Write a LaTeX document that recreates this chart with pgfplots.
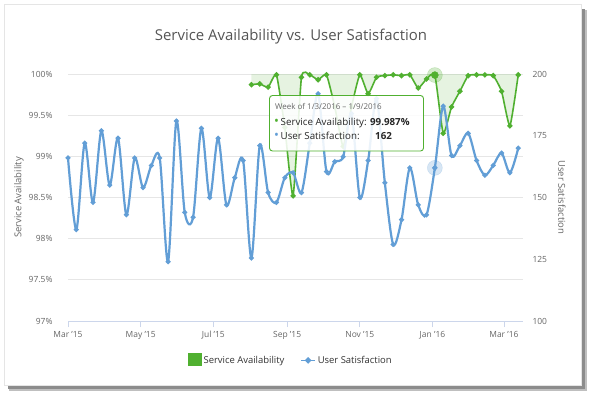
\documentclass[border=0pt]{standalone}
\usepackage{fontspec}
\setmainfont{Open Sans}
\usepackage{pgfplots}
\usepackage{pgfplotstable}
\pgfplotsset{compat=1.18}
\definecolor{gA}{RGB}{80,176,48}
\definecolor{bU}{RGB}{98,158,214}
\definecolor{gridc}{RGB}{230,230,230}
\definecolor{axc}{RGB}{204,214,235}
\definecolor{txt}{RGB}{102,102,102}
\definecolor{ttl}{RGB}{85,85,85}

\pgfplotstableread{
day val
154 99.87
161 99.88
168 99.84
175 99.99
182 99.35
189 98.52
196 99.96
203 99.99
210 99.93
217 99.99
224 99.60
231 99.12
238 99.60
245 99.99
252 99.76
259 99.96
266 99.98
273 99.99
280 99.98
287 99.99
294 99.83
301 99.94
308 99.987
315 99.28
322 99.60
329 99.79
336 99.98
343 99.99
350 99.99
357 99.98
364 99.79
371 99.37
378 99.99
}\greentab

\pgfplotstableread{
day val
0 166
7 137
14 172
21 148
28 177
35 155
42 174
49 143
56 166
63 154
70 163
77 166
84 124
91 181
98 144
105 142
112 178
119 150
126 174
133 147
140 158
147 165
154 125.5
161 171
168 152
175 148
182 158
189 160
196 152
203 172
210 192
217 160.5
224 164.5
231 166.5
238 184
245 150
252 165
259 190
266 156
273 131
280 141
287 162
294 147
301 143
308 162
315 187
322 167
329 171
336 176
343 165
350 159
357 163
364 168
371 160
378 170
}\bluetab

\begin{document}
\begin{tikzpicture}
\path (0bp,0bp) rectangle (591bp,-396bp);
\fill[black!25] (9bp,-10bp) rectangle (587bp,-391bp);
\fill[black!45] (8bp,-9bp) rectangle (585bp,-389bp);
\fill[white] (4bp,-4bp) rectangle (581bp,-385bp);
\draw[black!10] (4bp,-4bp) rectangle (581bp,-385bp);

\node[ttl, font=\fontsize{15}{18}\selectfont] at (291bp,-37bp) {Service Availability vs. User Satisfaction};

\begin{axis}[
  at={(68bp,-321bp)}, anchor=south west, scale only axis,
  width=455bp, height=247bp,
  xmin=0, xmax=382, ymin=97, ymax=100,
  clip=false,
  axis x line*=bottom, axis y line*=left,
  x axis line style={draw=axc, line width=0.8bp, -},
  y axis line style={draw=none},
  xtick={0,61,122,184,245,306,366},
  xticklabels={Mar '15,May '15,Jul '15,Sep '15,Nov '15,Jan '16,Mar '16},
  xtick style={draw=axc, line width=0.8bp},
  tick align=outside, major tick length=6bp,
  ytick={97,97.5,98,98.5,99,99.5,100},
  yticklabels={97\%,97.5\%,98\%,98.5\%,99\%,99.5\%,100\%},
  ytick style={draw=none},
  ymajorgrids, grid style={gridc, line width=0.8bp},
  tick label style={font=\fontsize{8.5}{10}\selectfont, text=txt},
  yticklabel style={xshift=-6bp},
  xticklabel style={yshift=-1bp},
  ylabel={Service Availability},
  ylabel style={at={(axis description cs:-0.1077,0.5)}, anchor=center, font=\fontsize{9.5}{11}\selectfont, text=txt},
  /pgf/number format/assume math mode=true,
]
\addplot[fill=gA, fill opacity=0.14, draw=none, smooth, tension=0.3] table {\greentab} -- (axis cs:378,100) -- (axis cs:154,100) -- cycle;
\addplot[gA, line width=1.6bp, smooth, tension=0.3, mark=*, mark size=1.8bp, mark options={solid}] table {\greentab};
\addplot[only marks, mark=*, mark size=7.5bp, gA, opacity=0.25] coordinates {(308,99.987)};
\addplot[only marks, mark=*, mark size=3.5bp, gA] coordinates {(308,99.987)};
\end{axis}

\begin{axis}[
  at={(68bp,-321bp)}, anchor=south west, scale only axis,
  width=455bp, height=247bp,
  xmin=0, xmax=382, ymin=100, ymax=200,
  clip=false,
  axis x line=none, axis y line*=right,
  y axis line style={draw=none},
  ytick={100,125,150,175,200},
  ytick style={draw=none},
  tick label style={font=\fontsize{8.5}{10}\selectfont, text=txt},
  yticklabel style={anchor=west, xshift=6bp},
  ylabel={User Satisfaction},
  ylabel style={at={(axis description cs:1.0857,0.5)}, anchor=center, rotate=180, font=\fontsize{9.5}{11}\selectfont, text=txt},
  /pgf/number format/assume math mode=true,
  legend columns=2,
  legend style={at={(0.49,-0.158)}, anchor=center, draw=none, fill=none,
     font=\fontsize{9.5}{11}\selectfont, text=black!80,
     /tikz/every even column/.append style={column sep=14bp}},
]
\addlegendimage{legend image code/.code={\fill[gA] (0bp,-5bp) rectangle (13bp,7bp);}}
\addlegendentry{Service Availability}
\addplot[bU, line width=2.2bp, smooth, tension=0.5, mark=*, mark size=1.2bp,
  legend image code/.code={\draw[bU, line width=1.3bp] (0bp,0bp) -- (14bp,0bp); \fill[bU] (7bp,0bp) circle (1.8bp);}] table {\bluetab};
\addlegendentry{User Satisfaction}
\addplot[only marks, mark=*, mark size=7.5bp, bU, opacity=0.25, forget plot] coordinates {(308,162)};
\addplot[only marks, mark=diamond*, mark size=3bp, bU, forget plot] coordinates {(308,162)};
\end{axis}

\draw[gA, line width=0.9bp, rounded corners=3bp, fill=white, fill opacity=0.88] (269.5bp,-95.5bp) rectangle (423.5bp,-151bp);
\node[anchor=base west, inner sep=0pt, text=txt, font=\fontsize{8}{9}\selectfont] at (275bp,-109.5bp) {Week of 1/3/2016 – 1/9/2016};
\node[anchor=base west, inner sep=0pt, font=\fontsize{9.8}{11}\selectfont, text=black!85] at (274bp,-125bp) {{\color{gA}\fontsize{13}{13}\selectfont\textbullet}\,Service Availability: \textbf{99.987\%}};
\node[anchor=base west, inner sep=0pt, font=\fontsize{9.8}{11}\selectfont, text=black!85] at (274bp,-139.5bp) {{\color{bU}\fontsize{13}{13}\selectfont\textbullet}\,User Satisfaction:};
\node[anchor=base west, inner sep=0pt, font=\fontsize{9.8}{11}\selectfont, text=black!85] at (375bp,-139.5bp) {\textbf{162}};
\end{tikzpicture}
\end{document}
